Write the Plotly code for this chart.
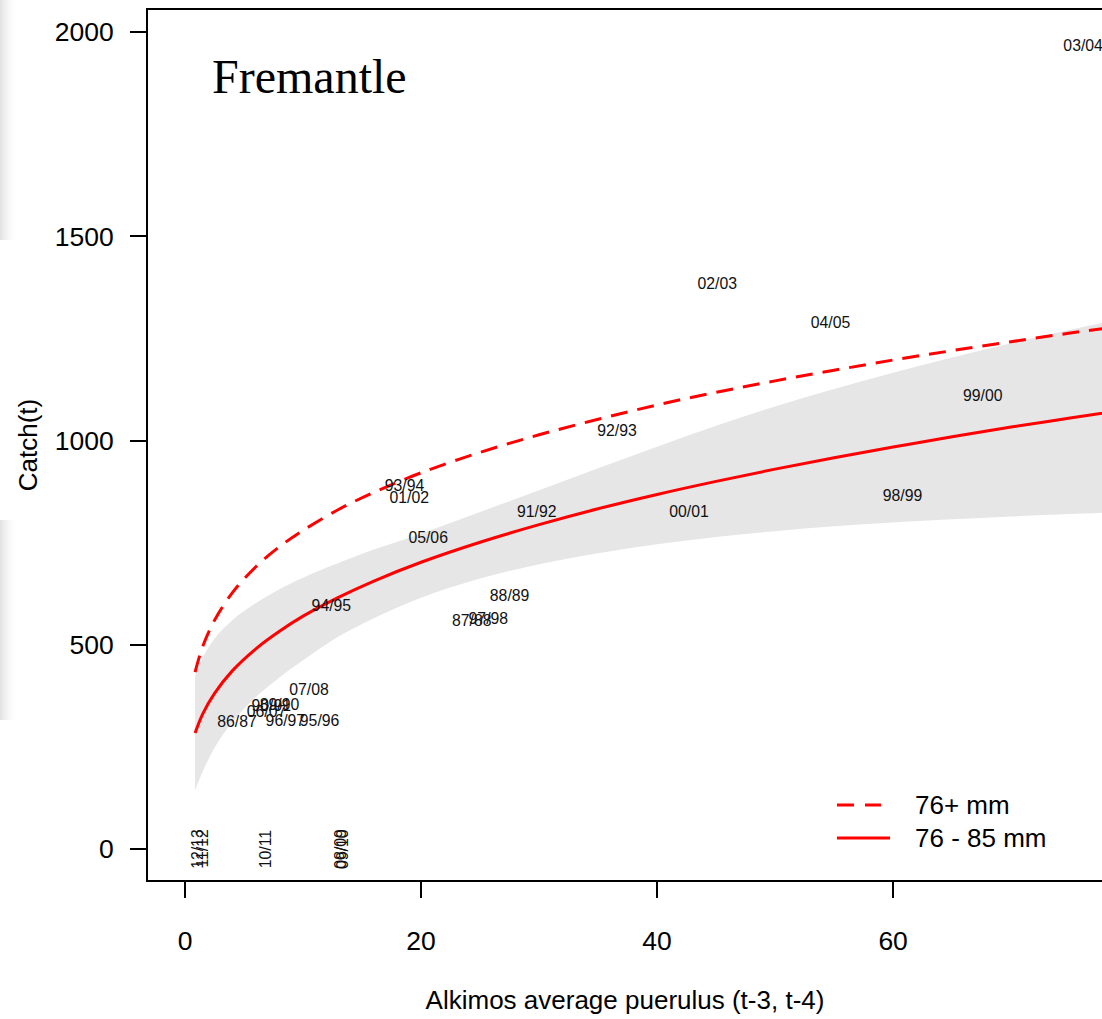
import plotly.graph_objects as go

# ---- data ----
curve_x = [0.85, 1.5, 2.5, 4, 6, 8, 10, 13, 16, 20, 25, 30, 35, 40, 45, 50, 55, 60, 65, 70, 75, 80]
fit_76_85 = [284, 331, 381, 436, 490, 533, 570, 616, 656, 702, 751, 794, 833, 868, 900, 930, 958, 984, 1009, 1033, 1055, 1077]
fit_76plus = [433, 496, 560, 627, 691, 740, 780, 831, 873, 921, 971, 1014, 1052, 1087, 1118, 1146, 1172, 1197, 1220, 1242, 1263, 1282]
band_lower = [144, 190, 248, 310, 372, 420, 462, 520, 565, 615, 662, 697, 724, 746, 764, 778, 790, 799, 807, 814, 820, 826]
band_upper = [424, 468, 515, 560, 602, 636, 664, 700, 733, 772, 825, 878, 932, 985, 1036, 1083, 1126, 1166, 1203, 1238, 1271, 1302]

season_labels = ["03/04", "02/03", "04/05", "99/00", "92/93", "93/94", "01/02", "91/92", "00/01",
                 "98/99", "05/06", "88/89", "87/88", "97/98", "94/95", "07/08", "86/87", "96/97",
                 "95/96", "89/90", "90/91", "06/07"]
season_x = [76.1, 45.1, 54.7, 67.6, 36.6, 18.6, 19.0, 29.8, 42.7,
            60.8, 20.6, 27.5, 24.3, 25.7, 12.4, 10.5, 4.4, 8.5,
            11.4, 8.0, 7.3, 6.9]
season_y = [1963, 1381, 1285, 1106, 1021, 886, 857, 822, 822,
            862, 759, 617, 556, 561, 592, 387, 308, 311,
            311, 350, 348, 333]

zero_labels = ["12/13", "11/12", "10/11", "08/09", "09/10"]
zero_x = [1.0, 1.4, 6.8, 13.1, 13.3]
zero_y = [0, 0, 0, 0, 0]

x_ticks = [0, 20, 40, 60, 80]
y_ticks = [0, 500, 1000, 1500, 2000]

FONT = "Liberation Sans, Arial, Helvetica, sans-serif"
RED = "#ff0000"

fig = go.Figure()

# confidence band
fig.add_trace(go.Scatter(x=curve_x, y=band_lower, mode="lines", line=dict(width=0, shape="spline"),
                         showlegend=False, hoverinfo="skip"))
fig.add_trace(go.Scatter(x=curve_x, y=band_upper, mode="lines", line=dict(width=0, shape="spline"),
                         fill="tonexty", fillcolor="#e6e6e6", showlegend=False, hoverinfo="skip"))

# fitted curves
fig.add_trace(go.Scatter(x=curve_x, y=fit_76plus, mode="lines", name="76+ mm",
                         line=dict(color=RED, width=3, dash="17px,10px", shape="spline"), showlegend=False))
fig.add_trace(go.Scatter(x=curve_x, y=fit_76_85, mode="lines", name="76 - 85 mm",
                         line=dict(color=RED, width=3, shape="spline"), showlegend=False))

# season labels
fig.add_trace(go.Scatter(x=season_x, y=season_y, mode="text", text=season_labels,
                         textposition="middle center",
                         textfont=dict(family=FONT, size=15.8, color="#111111"),
                         showlegend=False, cliponaxis=False))

for lx, ly, lt in zip(zero_x, zero_y, zero_labels):
    fig.add_annotation(x=lx, y=ly, text=lt, showarrow=False, textangle=-90,
                       font=dict(family=FONT, size=15.8, color="#111111"),
                       xanchor="center", yanchor="middle")

# title inside plot
fig.add_annotation(xref="paper", yref="paper", x=0.0655, y=0.923, text="Fremantle",
                   showarrow=False, xanchor="left", yanchor="middle",
                   font=dict(family="Liberation Serif, Times New Roman, serif", size=48, color="black"))

# manual legend
L0, L1, LS1, T = 0.7222, 0.7683, 0.7778, 0.802
yd, ys = 0.0862, 0.0483
fig.add_shape(type="line", xref="paper", yref="paper", x0=L0, x1=L1, y0=yd, y1=yd,
              line=dict(color=RED, width=3, dash="17px,11px"))
fig.add_shape(type="line", xref="paper", yref="paper", x0=L0, x1=LS1, y0=ys, y1=ys,
              line=dict(color=RED, width=3))
fig.add_annotation(xref="paper", yref="paper", x=T, y=yd, text="76+ mm", showarrow=False,
                   xanchor="left", yanchor="middle", font=dict(family=FONT, size=26, color="black"))
fig.add_annotation(xref="paper", yref="paper", x=T, y=ys, text="76 - 85 mm", showarrow=False,
                   xanchor="left", yanchor="middle", font=dict(family=FONT, size=26, color="black"))

# soft blurred strip along the left edge of the photo
W, H = 954.0, 870.0
for i in range(18):
    op = 0.30 * (1 - i / 18.0) ** 2
    for (py0, py1) in [(0, 240), (520, 720)]:
        fig.add_shape(type="rect", xref="paper", yref="paper",
                      x0=(i - 148) / W, x1=(i + 1 - 148) / W,
                      y0=(880 - py1) / H, y1=(880 - py0) / H,
                      fillcolor="#a0a0a0", opacity=op, line=dict(width=0), layer="below")

fig.update_layout(
    width=1102, height=1019,
    margin=dict(l=148, r=0, t=10, b=139),
    paper_bgcolor="white", plot_bgcolor="white",
    font=dict(family=FONT, color="black"),
    xaxis=dict(range=[-3.14, 77.7], tickvals=x_ticks, ticktext=[str(v) for v in x_ticks],
               showgrid=False, zeroline=False, showline=True, linecolor="black", linewidth=2,
               mirror=True, ticks="outside", ticklen=16, tickwidth=1.5, tickcolor="black",
               tickfont=dict(size=26.5), ticklabelstandoff=20,
               title=dict(text="Alkimos average puerulus (t-3, t-4)", font=dict(size=26), standoff=36)),
    yaxis=dict(range=[-75.9, 2053.9], tickvals=y_ticks, ticktext=[str(v) for v in y_ticks],
               showgrid=False, zeroline=False, showline=True, linecolor="black", linewidth=2,
               ticks="outside", ticklen=16, tickwidth=1.5, tickcolor="black",
               tickfont=dict(size=26.5), ticklabelstandoff=11,
               title=dict(text="Catch(t)", font=dict(size=26), standoff=10)),
)

fig.write_html("out.html")
